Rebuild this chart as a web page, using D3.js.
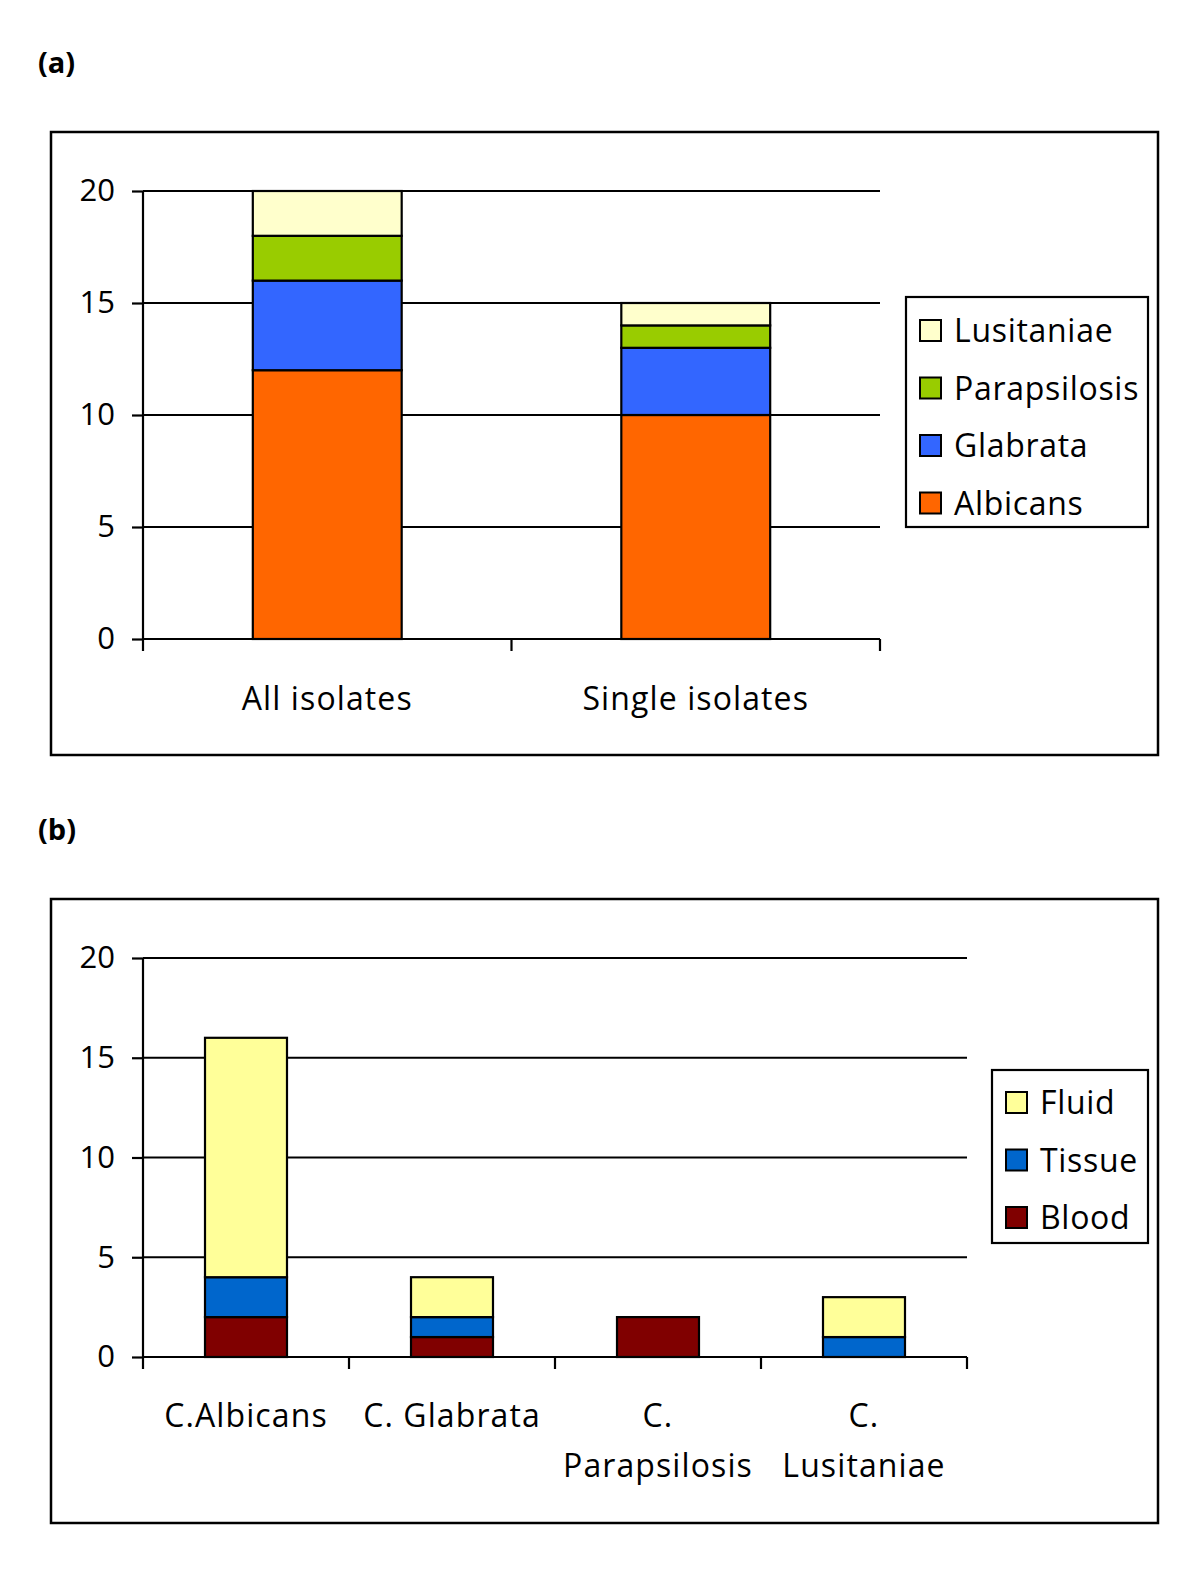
<!DOCTYPE html>
<html>
<head>
<meta charset="utf-8">
<script src="https://cdn.jsdelivr.net/npm/d3@7"></script>
<style>
  body { margin: 0; background: #fff; }
  svg { font-family: "Open Sans", "Noto Sans", sans-serif; }
</style>
</head>
<body>
<svg id="chart" width="1200" height="1571"></svg>
<script>
// Panel (a): species by isolate set
const groupsA = ['All isolates', 'Single isolates'];
const speciesA = ['Albicans', 'Glabrata', 'Parapsilosis', 'Lusitaniae'];
const albicansA = [12, 10];
const glabrataA = [4, 3];
const parapsilosisA = [2, 1];
const lusitaniaeA = [2, 1];
const colorsA = ['#FF6600', '#3366FF', '#99CC00', '#FFFFCC'];

// Panel (b): sample source by species
const groupsB = [['C.Albicans'], ['C. Glabrata'], ['C.', 'Parapsilosis'], ['C.', 'Lusitaniae']];
const sourcesB = ['Blood', 'Tissue', 'Fluid'];
const bloodB = [2, 1, 2, 0];
const tissueB = [2, 1, 0, 1];
const fluidB = [12, 2, 0, 2];
const colorsB = ['#800000', '#0066CC', '#FFFF99'];

const yTicks = [0, 5, 10, 15, 20];

const svg = d3.select('#chart');

function panel(cfg) {
  const g = svg.append('g');

  // outer frame
  g.append('rect')
    .attr('x', cfg.box[0]).attr('y', cfg.box[1])
    .attr('width', cfg.box[2]).attr('height', cfg.box[3])
    .attr('fill', 'none').attr('stroke', '#000').attr('stroke-width', 2.5);

  svg.append('text')
    .attr('x', 38).attr('y', cfg.labelY)
    .attr('font-size', 29).attr('font-weight', 'bold')
    .text(cfg.label);

  const x = d3.scaleBand()
    .domain(d3.range(cfg.groups.length))
    .range([cfg.x0, cfg.x1])
    .paddingInner(cfg.pad).paddingOuter(cfg.pad / 2);
  const xb = d3.scaleBand()
    .domain(d3.range(cfg.groups.length))
    .range([cfg.x0, cfg.x1]);

  const y = d3.scaleLinear().domain([0, 20]).range([cfg.y0, cfg.y1]);

  // gridlines
  g.selectAll('.grid').data(yTicks.slice(1)).join('line')
    .attr('x1', cfg.x0).attr('x2', cfg.x1)
    .attr('y1', d => y(d)).attr('y2', d => y(d))
    .attr('stroke', '#000').attr('stroke-width', 2.2);

  // stacked bars
  const rows = cfg.groups.map((_, i) => {
    const r = { i };
    cfg.keys.forEach((k, j) => { r[k] = cfg.values[j][i]; });
    return r;
  });
  const stack = d3.stack().keys(cfg.keys)(rows);
  stack.forEach((layer, j) => {
    g.selectAll('.bar' + j).data(layer.filter(d => d[1] > d[0])).join('rect')
      .attr('x', d => x(d.data.i))
      .attr('width', x.bandwidth())
      .attr('y', d => y(d[1]))
      .attr('height', d => y(d[0]) - y(d[1]))
      .attr('fill', cfg.colors[j])
      .attr('stroke', '#000').attr('stroke-width', 2.2);
  });

  // y axis
  const yAxis = g.append('g')
    .attr('transform', `translate(${cfg.x0},0)`)
    .call(d3.axisLeft(y).tickValues(yTicks).tickSize(11).tickPadding(17))
    .attr('font-family', null).attr('font-size', null);
  yAxis.selectAll('line, path').attr('stroke', '#000').attr('stroke-width', 2.2);
  yAxis.select('.domain').attr('d', `M0,${cfg.y0 + 12}V${cfg.y1}`);
  yAxis.selectAll('text').attr('font-size', 31).attr('fill', '#000');

  // x axis
  const xAxisG = g.append('g').attr('transform', `translate(0,${cfg.y0})`);
  xAxisG.append('line')
    .attr('x1', cfg.x0).attr('x2', cfg.x1)
    .attr('stroke', '#000').attr('stroke-width', 2.2);
  const edges = d3.range(cfg.groups.length).map(i => xb(i)).concat([cfg.x1]);
  xAxisG.selectAll('.tick').data(edges.slice(1)).join('line')
    .attr('x1', d => d).attr('x2', d => d)
    .attr('y1', 0).attr('y2', 12)
    .attr('stroke', '#000').attr('stroke-width', 2.2);

  const labels = xAxisG.selectAll('.lab').data(cfg.groups).join('text')
    .attr('text-anchor', 'middle')
    .attr('font-size', 32)
    .attr('letter-spacing', 1.1)
    .attr('y', cfg.labelDy);
  labels.each(function (d, i) {
    const lines = Array.isArray(d) ? d : [d];
    d3.select(this).selectAll('tspan').data(lines).join('tspan')
      .attr('x', xb(i) + xb.bandwidth() / 2)
      .attr('dy', (l, k) => k === 0 ? 0 : 50)
      .text(l => l);
  });

  // legend
  const lg = g.append('g');
  lg.append('rect')
    .attr('x', cfg.legend[0]).attr('y', cfg.legend[1])
    .attr('width', cfg.legend[2]).attr('height', cfg.legend[3])
    .attr('fill', '#fff').attr('stroke', '#000').attr('stroke-width', 2.2);
  const items = cfg.keys.slice().reverse();
  const itemColors = cfg.colors.slice().reverse();
  items.forEach((k, j) => {
    const cy = cfg.legendRow0 + j * cfg.legendStep;
    lg.append('rect')
      .attr('x', cfg.legend[0] + 14).attr('y', cy - 11)
      .attr('width', 21).attr('height', 21)
      .attr('fill', itemColors[j]).attr('stroke', '#000').attr('stroke-width', 2);
    lg.append('text')
      .attr('x', cfg.legend[0] + 48).attr('y', cy + 11)
      .attr('font-size', 32)
      .attr('letter-spacing', 0.7)
      .text(k);
  });
}

panel({
  label: '(a)', labelY: 73,
  box: [51, 132, 1107, 623],
  x0: 143, x1: 880, y0: 639, y1: 191,
  pad: 0.596,
  groups: groupsA,
  keys: speciesA,
  values: [albicansA, glabrataA, parapsilosisA, lusitaniaeA],
  colors: colorsA,
  labelDy: 71,
  legend: [906, 297, 242, 230], legendRow0: 331, legendStep: 57.5
});

panel({
  label: '(b)', labelY: 840,
  box: [51, 899, 1107, 624],
  x0: 143, x1: 967, y0: 1357, y1: 958,
  pad: 0.602,
  groups: groupsB,
  keys: sourcesB,
  values: [bloodB, tissueB, fluidB],
  colors: colorsB,
  labelDy: 70,
  legend: [992, 1070, 156, 173], legendRow0: 1103, legendStep: 57.5
});
</script>
</body>
</html>
